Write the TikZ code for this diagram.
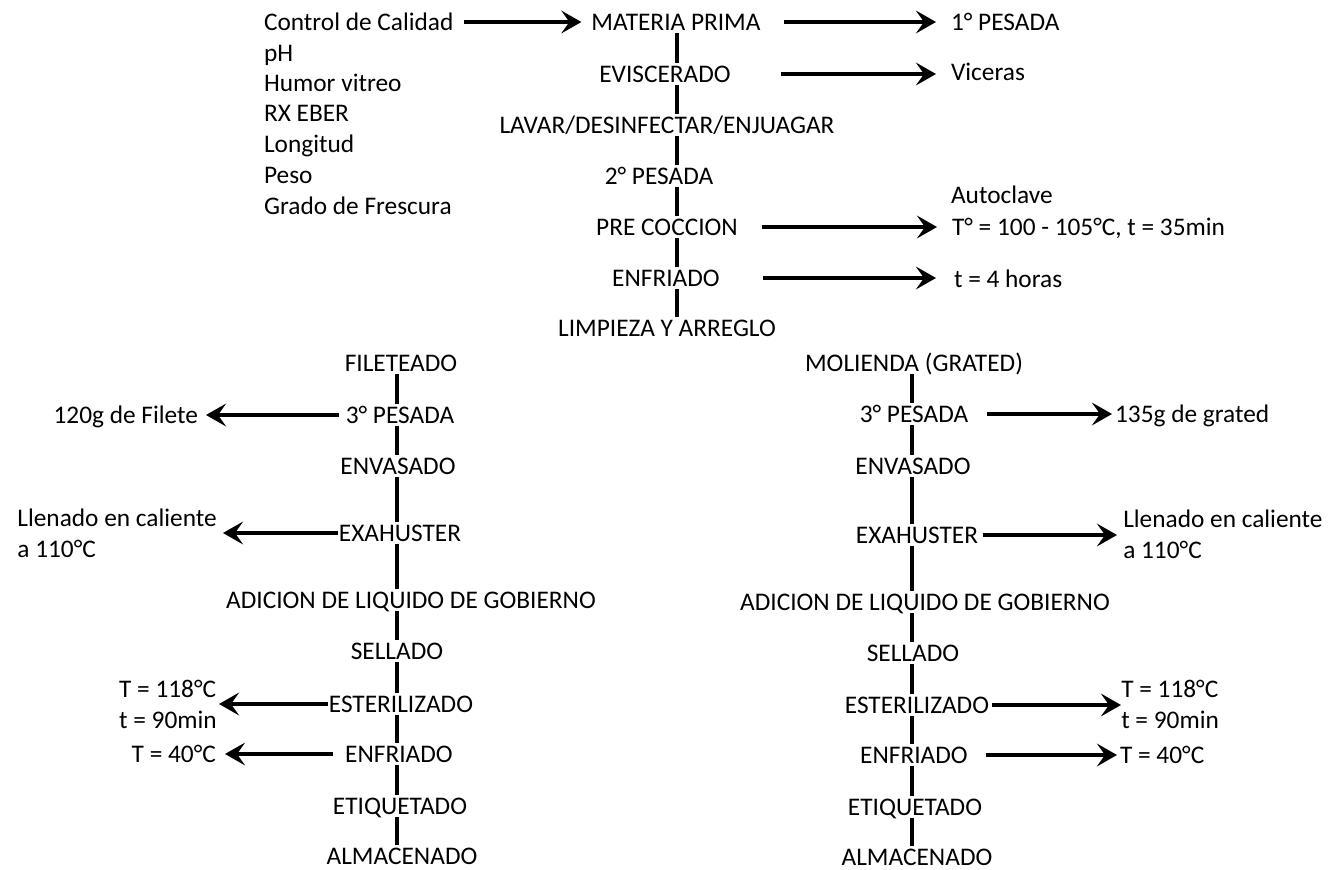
\documentclass[tikz,border=0pt]{standalone}
\usepackage{fontspec}
\setmainfont{Carlito}
\usetikzlibrary{arrows.meta,backgrounds}
\begin{document}
\begin{tikzpicture}[x=0.75pt,y=-0.75pt,
  font=\fontsize{19}{23.2}\selectfont,
  lbl/.style={inner xsep=0.6pt, inner ysep=1.8pt, text height=12.2pt, text depth=0pt, fill=white},
  blk/.style={inner sep=0pt, align=left},
  vline/.style={line width=3pt},
  arr/.style={line width=3.4pt, -{Stealth[length=15pt,width=17pt,inset=6pt]}}]
\useasboundingbox (0,0) rectangle (1343,870);

% ---- quality control list ----
\node[lbl,anchor=west] (ctrl) at (263,22) {Control de Calidad};
\node[lbl,anchor=west] (ph)   at (263,53) {pH};
\node[lbl,anchor=west] (hum)  at (263,83) {Humor vitreo};
\node[lbl,anchor=west] (rxe)  at (263,113) {RX EBER};
\node[lbl,anchor=west] (lon)  at (263,144) {Longitud};
\node[lbl,anchor=west] (pes)  at (263,175) {Peso};
\node[lbl,anchor=west] (gra)  at (263,206) {Grado de Frescura};

% ---- common trunk ----
\node[lbl] (mp)  at (676,22)  {MATERIA PRIMA};
\node[lbl] (ev)  at (665,74)  {EVISCERADO};
\node[lbl] (lav) at (667,125) {LAVAR/DESINFECTAR/ENJUAGAR};
\node[lbl] (p2)  at (659,176) {2° PESADA};
\node[lbl] (pre) at (667,227) {PRE COCCION};
\node[lbl] (enf) at (666,278) {ENFRIADO};
\node[lbl] (lim) at (667,328) {LIMPIEZA Y ARREGLO};

\node[lbl,anchor=west] (p1)    at (950,22)  {1° PESADA};
\node[lbl,anchor=west] (vic)   at (950,72)  {Viceras};
\node[lbl,anchor=west] (auto)  at (950,195) {Autoclave};
\node[lbl,anchor=west] (tcond) at (951,227) {T° = 100 - 105°C, t = 35min};
\node[lbl,anchor=west] (t4)    at (953,279) {t = 4 horas};

\draw[arr, shorten <=6.75pt, shorten >=6.75pt] (ctrl.east) -- (mp.west);
\draw[arr, shorten <=16.5pt, shorten >=10.5pt] (mp.east) -- (p1.west);
\draw[arr, shorten <=36.75pt, shorten >=10.5pt] (ev.east) -- (vic.west |- ev.east);
\draw[arr, shorten <=17.25pt, shorten >=10.5pt] (pre.east) -- (tcond.west);
\draw[arr, shorten <=32pt, shorten >=12.75pt] (enf.east) -- (t4.west |- enf.east);

% ---- fillet line ----
\node[lbl] (fil)  at (401,363) {FILETEADO};
\node[lbl] (lp3)  at (400,415) {3° PESADA};
\node[lbl] (lenv) at (398,466) {ENVASADO};
\node[lbl] (lexa) at (400,533) {EXAHUSTER};
\node[lbl] (ladi) at (411,600) {ADICION DE LIQUIDO DE GOBIERNO};
\node[lbl] (lsel) at (397,651) {SELLADO};
\node[lbl] (lest) at (401,704) {ESTERILIZADO};
\node[lbl] (lenf) at (399,754) {ENFRIADO};
\node[lbl] (leti) at (400,806) {ETIQUETADO};
\node[lbl] (lalm) at (402,856) {ALMACENADO};

\node[lbl,anchor=east] (f120) at (199,415) {120g de Filete};
\node[blk,anchor=east] (lll)  at (217,533) {Llenado en caliente\\a 110°C};
\node[blk,anchor=east] (ltt)  at (217,704) {T = 118°C\\t = 90min};
\node[lbl,anchor=east] (lt40) at (217,754) {T = 40°C};

\draw[arr, shorten <=4.5pt, shorten >=5.25pt] (lp3.west) -- (f120.east);
\draw[arr, shorten >=4.5pt] (lexa.west) -- (lll.east |- lexa.west);
\draw[arr, shorten >=1.5pt] (lest.west) -- (ltt.east |- lest.west);
\draw[arr, shorten <=8.25pt, shorten >=6pt] (lenf.west) -- (lt40.east);

% ---- grated line ----
\node[lbl] (rmol) at (914,363) {MOLIENDA (GRATED)};
\node[lbl] (rp3)  at (914,414) {3° PESADA};
\node[lbl] (renv) at (913,466) {ENVASADO};
\node[lbl] (rexa) at (917,535) {EXAHUSTER};
\node[lbl] (radi) at (925,602) {ADICION DE LIQUIDO DE GOBIERNO};
\node[lbl] (rsel) at (913,653) {SELLADO};
\node[lbl] (rest) at (917,705) {ESTERILIZADO};
\node[lbl] (renf) at (914,755) {ENFRIADO};
\node[lbl] (reti) at (915,807) {ETIQUETADO};
\node[lbl] (ralm) at (917,857) {ALMACENADO};

\node[lbl,anchor=west] (r135) at (1114,414) {135g de grated};
\node[blk,anchor=west] (rll)  at (1123,534) {Llenado en caliente\\a 110°C};
\node[blk,anchor=west] (rtt)  at (1121,704) {T = 118°C\\t = 90min};
\node[lbl,anchor=west] (rt40) at (1119,755) {T = 40°C};

\draw[arr, shorten <=13.5pt, shorten >=1.5pt] (rp3.east) -- (r135.west);
\draw[arr, shorten <=3pt, shorten >=4.5pt] (rexa.east) -- (rll.west |- rexa.east);
\draw[arr, shorten <=1.5pt] (rest.east) -- (rtt.west |- rest.east);
\draw[arr, shorten <=12.75pt, shorten >=1.5pt] (renf.east) -- (rt40.west);

% ---- vertical flow lines, kept behind the white-filled step labels ----
\begin{scope}[on background layer]
  \fill[white] (0,0) rectangle (1343,870);
  \coordinate (cx) at (677,0);
  \coordinate (lx) at (397,0);
  \coordinate (rx) at (912,0);
  \foreach \a/\b in {mp/ev,ev/lav,lav/p2,p2/pre,pre/enf,enf/lim}
    \draw[vline] (\a.center-|cx) -- (\b.center-|cx);
  \foreach \a/\b in {fil/lp3,lp3/lenv,lenv/lexa,lexa/ladi,ladi/lsel,lsel/lest,lest/lenf,lenf/leti,leti/lalm}
    \draw[vline] (\a.center-|lx) -- (\b.center-|lx);
  \foreach \a/\b in {rmol/rp3,rp3/renv,renv/rexa,rexa/radi,radi/rsel,rsel/rest,rest/renf,renf/reti,reti/ralm}
    \draw[vline] (\a.center-|rx) -- (\b.center-|rx);
\end{scope}
\end{tikzpicture}
\end{document}
